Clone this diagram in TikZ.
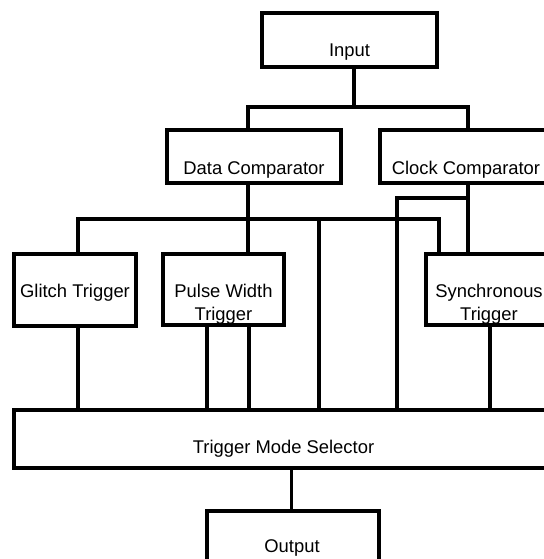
\documentclass[tikz,border=0pt]{standalone}
\usepackage{fontspec}
\setmainfont{Liberation Sans}
\usetikzlibrary{fit}
\tikzset{
	blk/.style={draw, line width=1.6pt, inner sep=0pt},
	lbl/.style={anchor=base, inner sep=0pt, align=center, font=\fontsize{9.2}{11.5}\selectfont},
	wire/.style={line width=1.6pt}
}

\begin{document}
\begin{tikzpicture}[x=0.5pt,y=-0.5pt]
	\useasboundingbox (0,0) rectangle (544,559);
	\clip (0,0) rectangle (544,559);
	% boxes
	\node[blk, fit={(262,13) (437,67)}] (input) {};
	\node[blk, fit={(167,130) (341,183)}] (datacmp) {};
	\node[blk, fit={(380,130) (552,183)}] (clockcmp) {};
	\node[blk, fit={(14,254) (136,326)}] (glitch) {};
	\node[blk, fit={(163,254) (284,325)}] (pulse) {};
	\node[blk, fit={(426,254) (552,325)}] (sync) {};
	\node[blk, fit={(14,410) (553,468)}] (selector) {};
	\node[blk, fit={(207,511) (379,600)}] (output) {};
	% texts (two-line labels sit on their last line)
	\node[lbl] (inputtxt) at (349.5,56) {Input};
	\node[lbl] (datatxt) at (254,174) {Data Comparator};
	\node[lbl] (clocktxt) at (466,174) {Clock Comparator};
	\node[lbl] (glitchtxt) at (75,297) {Glitch Trigger};
	\node[lbl] (pulsetxt) at (223.5,320) {Pulse Width\\Trigger};
	\node[lbl] (synctxt) at (489,320) {Synchronous\\Trigger};
	\node[lbl] (seltxt) at (283.5,453) {Trigger Mode Selector};
	\node[lbl] (outtxt) at (292,552) {Output};
	% wires
	\coordinate (fork) at (354,107);
	\coordinate (bus) at (248,219);
	\coordinate (tap) at (468,198);
	\draw[wire] (input.south -| fork) -- (fork);
	\draw[wire] (datacmp.north -| 248,0) |- (fork) -| (clockcmp.north -| 468,0);
	\draw[wire] (datacmp.south -| bus) -- (pulse.north -| bus);
	\draw[wire] (glitch.north -| 78,0) |- (bus) -| (sync.north -| 439,0);
	\draw[wire] (bus -| 319,0) -- (selector.north -| 319,0);
	\draw[wire] (clockcmp.south -| tap) -- (sync.north -| tap);
	\draw[wire] (tap) -| (selector.north -| 397,0);
	\draw[wire] (glitch.south -| 78,0) -- (selector.north -| 78,0);
	\foreach \px in {207,249}
		\draw[wire] (pulse.south -| \px,0) -- (selector.north -| \px,0);
	\draw[wire] (sync.south -| 490,0) -- (selector.north -| 490,0);
	\draw[wire] (selector.south -| 291.5,0) -- (output.north -| 291.5,0);
\end{tikzpicture}
\end{document}
